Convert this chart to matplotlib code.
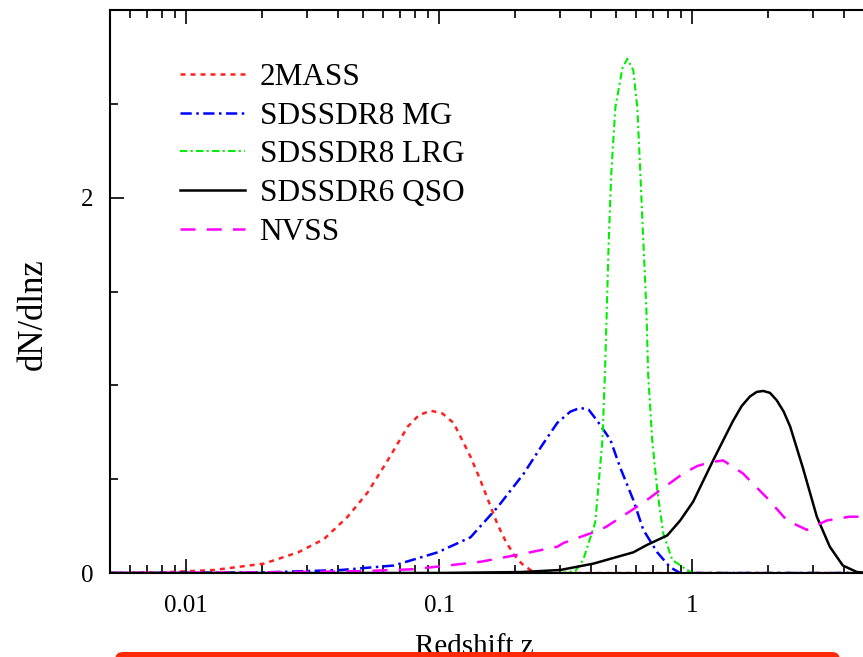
import matplotlib
matplotlib.use('Agg')
import matplotlib.pyplot as plt
import matplotlib.patches as patches
from matplotlib.transforms import IdentityTransform
from matplotlib.ticker import LogLocator, NullFormatter, FixedLocator

plt.rcParams['font.family'] = ['Liberation Serif', 'DejaVu Serif']

# 2MASS (red dotted)
mass_z = [0.005, 0.008, 0.0129, 0.0203, 0.0277, 0.035, 0.0435, 0.0522, 0.0626, 0.0751,
          0.083, 0.0925, 0.103, 0.114, 0.133, 0.145, 0.157, 0.170, 0.183, 0.197,
          0.212, 0.23, 0.25, 5.0]
mass_n = [0.0, 0.003, 0.016, 0.05, 0.11, 0.18, 0.30, 0.43, 0.60, 0.78,
          0.84, 0.865, 0.85, 0.80, 0.62, 0.50, 0.38, 0.26, 0.17, 0.10,
          0.05, 0.015, 0.0, 0.0]

# SDSS DR8 main galaxies (blue dash-dot)
mg_z = [0.005, 0.02, 0.0409, 0.0662, 0.0986, 0.133, 0.170, 0.216, 0.255, 0.293,
        0.33, 0.361, 0.39, 0.422, 0.475, 0.52, 0.585, 0.641, 0.728, 0.819, 0.897, 5.0]
mg_n = [0.0, 0.003, 0.016, 0.04, 0.11, 0.19, 0.35, 0.53, 0.68, 0.80,
        0.86, 0.88, 0.87, 0.81, 0.71, 0.56, 0.39, 0.23, 0.11, 0.03, 0.0, 0.0]

# SDSS DR8 LRG (green dash-dot-dot)
lrg_z = [0.005, 0.3, 0.345, 0.371, 0.414, 0.442, 0.452, 0.460, 0.468, 0.479, 0.497,
         0.530, 0.554, 0.585, 0.607, 0.624, 0.641, 0.659, 0.670, 0.695, 0.728,
         0.769, 0.834, 0.921, 1.0, 5.0]
lrg_n = [0.0, 0.0, 0.01, 0.07, 0.27, 0.71, 1.06, 1.41, 1.77, 2.13, 2.48,
         2.69, 2.74, 2.68, 2.48, 2.13, 1.77, 1.41, 1.06, 0.71, 0.44,
         0.21, 0.07, 0.03, 0.0, 0.0]

# SDSS DR6 QSO (black solid)
qso_z = [0.005, 0.1, 0.21, 0.301, 0.407, 0.585, 0.664, 0.797, 0.897, 1.009, 1.105,
         1.21, 1.33, 1.45, 1.57, 1.69, 1.80, 1.91, 2.03, 2.16, 2.30, 2.44, 2.74, 3.11,
         3.50, 3.94, 4.48, 5.0]
qso_n = [0.0, 0.0, 0.005, 0.016, 0.05, 0.11, 0.15, 0.20, 0.28, 0.38, 0.49,
         0.60, 0.71, 0.81, 0.89, 0.94, 0.965, 0.97, 0.96, 0.92, 0.86, 0.78, 0.56, 0.30,
         0.14, 0.04, 0.005, 0.0]

# NVSS (magenta dashed)
nvss_z = [0.005, 0.02, 0.05, 0.0793, 0.108, 0.146, 0.210, 0.293, 0.310, 0.434, 0.462,
          0.585, 0.664, 0.728, 0.921, 1.047, 1.178, 1.325, 1.589, 1.976, 2.37,
          2.84, 3.41, 4.20, 5.04]
nvss_n = [0.0, 0.003, 0.01, 0.02, 0.04, 0.06, 0.10, 0.14, 0.16, 0.23, 0.25,
          0.34, 0.39, 0.43, 0.53, 0.57, 0.59, 0.60, 0.53, 0.40, 0.28,
          0.23, 0.28, 0.30, 0.30]

fig = plt.figure(figsize=(8.63, 6.57), dpi=100)
ax = fig.add_axes([110 / 863, 84 / 657, 759 / 863, 563 / 657])

ax.plot(mass_z, mass_n, color='#FF2020', lw=1.8, dashes=(2.0, 2.0), label='2MASS')
ax.plot(mg_z, mg_n, color='#0000FF', lw=1.8, dashes=(4.5, 1.8, 1, 1.8), label='SDSSDR8 MG')
ax.plot(lrg_z, lrg_n, color='#00EE00', lw=1.5, dashes=(3.5, 1.6, 1, 1.6), label='SDSSDR8 LRG')
ax.plot(qso_z, qso_n, color='black', lw=1.8, label='SDSSDR6 QSO')
ax.plot(nvss_z, nvss_n, color='#FF00FF', lw=1.8, dashes=(6, 4.5), label='NVSS')

ax.set_xscale('log')
ax.set_xlim(0.005, 5.0)
ax.set_ylim(0, 3)
ax.xaxis.set_major_locator(FixedLocator([0.01, 0.1, 1]))
ax.set_xticklabels(['0.01', '0.1', '1'])
ax.xaxis.set_minor_locator(LogLocator(base=10, subs=range(2, 10)))
ax.xaxis.set_minor_formatter(NullFormatter())
ax.yaxis.set_major_locator(FixedLocator([0, 2]))
ax.yaxis.set_minor_locator(FixedLocator([0.5, 1, 1.5, 2.5]))
ax.set_yticklabels(['0', '2'])

ax.tick_params(which='both', direction='in', top=True, right=False, width=1.2,
               labelsize=18, pad=12)
ax.tick_params(axis='x', which='both', pad=16)
ax.tick_params(which='major', length=10)
ax.tick_params(which='minor', length=6)
for sp in ax.spines.values():
    sp.set_linewidth(1.5)

# x label sits partly under the red bar, as in the reference
ax.set_xlabel('Redshift z', fontsize=21)
ax.xaxis.set_label_coords(0.48, -0.108)
ax.set_ylabel('dN/dlnz', fontsize=25)
ax.yaxis.set_label_coords(-0.079, 0.46)

ax.legend(loc='upper left', bbox_to_anchor=(0.092, 0.906), frameon=False,
          fontsize=22.5, handlelength=2.1, handletextpad=0.45, labelspacing=0.31,
          borderpad=0, borderaxespad=0)

# red overlay bar at the bottom edge
box = patches.FancyBboxPatch((115, -20), 725, 25,
                             boxstyle='round,pad=0,rounding_size=8',
                             transform=IdentityTransform(),
                             facecolor='#FF2A0A', edgecolor='none')
fig.add_artist(box)

fig.savefig('out.png', dpi=100)
